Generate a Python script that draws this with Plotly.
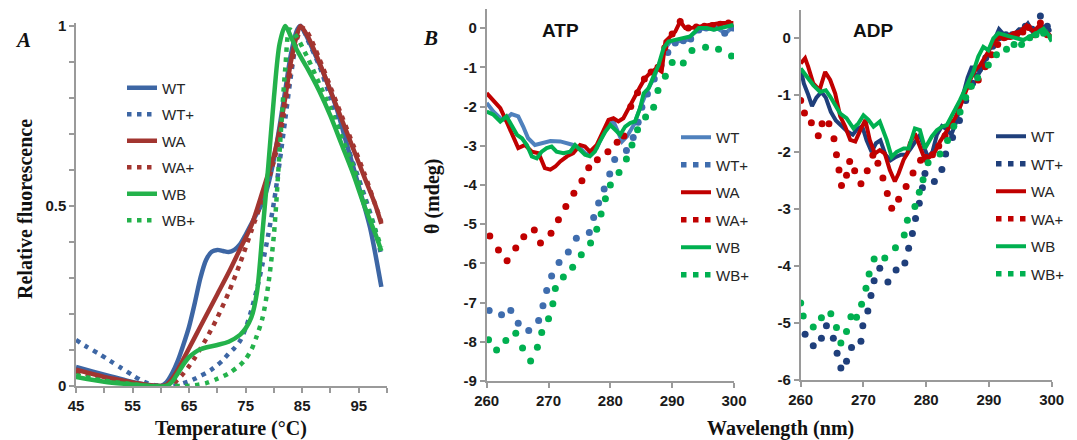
import plotly.graph_objects as go

W, H = 1077, 440
OFF = 8                      # page body margin of the html page
FW, FH = W - OFF, H - OFF    # figure size so that the figure exactly fills the window

# ================= Panel A : thermal shift (Temperature vs relative fluorescence) =================
A_WT_T = [45, 48, 51, 54, 57, 59, 60, 61, 62, 63, 64, 65, 66, 67, 68, 69, 70, 71, 72, 73, 74, 75, 76, 77, 78, 79, 80, 81, 82, 83, 84, 84.6, 85.5, 87, 89, 91, 93, 95, 97, 99]
A_WT_F = [0.053, 0.040, 0.027, 0.015, 0.005, 0.001, 0.0, 0.01, 0.035, 0.07, 0.115, 0.165, 0.23, 0.30, 0.35, 0.373, 0.378, 0.375, 0.372, 0.378, 0.393, 0.42, 0.45, 0.48, 0.51, 0.56, 0.63, 0.72, 0.82, 0.92, 0.985, 1.0, 0.98, 0.93, 0.86, 0.775, 0.665, 0.555, 0.44, 0.275]

A_WTp_T = [45, 47, 49, 51, 53, 55, 57, 59, 61, 62, 63, 64, 65, 66, 67, 68, 69, 70, 71, 72, 73, 74, 75, 76, 77, 78, 79, 80, 81, 82, 83, 84, 84.8, 86, 88, 90, 92, 94, 96, 98, 99]
A_WTp_F = [0.128, 0.108, 0.09, 0.07, 0.05, 0.03, 0.012, 0.002, 0.0, 0.0, 0.003, 0.008, 0.013, 0.02, 0.028, 0.036, 0.046, 0.058, 0.072, 0.09, 0.105, 0.125, 0.16, 0.21, 0.27, 0.34, 0.42, 0.51, 0.62, 0.74, 0.86, 0.96, 1.0, 0.96, 0.89, 0.80, 0.71, 0.62, 0.53, 0.43, 0.36]

A_WA_T = [45, 50, 55, 58, 60, 61, 62, 63, 64, 66, 68, 70, 72, 74, 76, 78, 79, 80, 81, 82, 83, 84, 84.7, 86, 88, 90, 92, 94, 96, 98, 99]
A_WA_F = [0.045, 0.025, 0.01, 0.002, 0.0, 0.003, 0.02, 0.045, 0.075, 0.135, 0.195, 0.255, 0.315, 0.38, 0.445, 0.54, 0.59, 0.64, 0.71, 0.8, 0.9, 0.97, 1.0, 0.97, 0.9, 0.82, 0.74, 0.66, 0.58, 0.5, 0.45]

A_WAp_T = [45, 50, 55, 58, 60, 62, 63, 64, 65, 66, 68, 70, 72, 74, 76, 78, 79, 80, 81, 82, 83, 84, 85, 86, 88, 90, 92, 94, 96, 98, 99]
A_WAp_F = [0.04, 0.022, 0.008, 0.001, 0.0, 0.005, 0.018, 0.035, 0.055, 0.078, 0.13, 0.19, 0.26, 0.34, 0.43, 0.52, 0.57, 0.625, 0.69, 0.78, 0.88, 0.96, 0.995, 0.98, 0.91, 0.83, 0.75, 0.67, 0.59, 0.5, 0.455]

A_WB_T = [45, 50, 55, 58, 61, 62, 63, 64, 65, 66, 67, 68, 70, 72, 74, 75, 76, 77, 78, 79, 80, 81, 82, 83, 84, 86, 88, 90, 92, 94, 96, 98, 99]
A_WB_F = [0.025, 0.012, 0.004, 0.0, 0.0, 0.012, 0.035, 0.06, 0.08, 0.093, 0.102, 0.107, 0.114, 0.123, 0.142, 0.16, 0.19, 0.26, 0.43, 0.61, 0.8, 0.95, 1.0, 0.97, 0.935, 0.88, 0.82, 0.75, 0.67, 0.59, 0.5, 0.42, 0.375]

A_WBp_T = [45, 50, 55, 58, 60, 62, 64, 66, 68, 70, 72, 74, 75, 76, 77, 78, 79, 80, 81, 82, 82.8, 84, 86, 88, 90, 92, 94, 96, 98, 99]
A_WBp_F = [0.03, 0.015, 0.005, 0.0, 0.0, 0.0, 0.0, 0.002, 0.008, 0.02, 0.035, 0.058, 0.075, 0.1, 0.14, 0.19, 0.28, 0.42, 0.65, 0.88, 0.99, 0.97, 0.91, 0.84, 0.77, 0.69, 0.61, 0.52, 0.43, 0.385]

# ================= Panel B : CD spectra with ATP (wavelength nm vs theta mdeg) =================
B_WT_L = [260.0, 261.1, 262.2, 263.0, 264.0, 265.1, 265.9, 266.7, 267.8, 268.9, 270.3, 271.9, 273.2, 274.0, 275.1, 276.2, 277.8, 279.4, 280.5, 281.9, 282.7, 283.8, 284.8, 285.9, 287.0, 288.1, 288.9, 289.7, 290.8, 292.4, 293.5, 294.6, 296.2, 297.2, 298.6, 299.9]
B_WT_V = [-1.91, -2.13, -2.30, -2.34, -2.19, -2.25, -2.51, -2.81, -2.98, -2.93, -2.88, -2.89, -2.93, -2.98, -3.06, -3.23, -3.06, -2.51, -2.38, -2.89, -2.76, -2.47, -2.04, -1.62, -1.28, -0.85, -0.51, -0.34, -0.34, -0.30, -0.13, -0.02, -0.02, 0.0, -0.13, 0.04]

B_WTp_L = [260.4, 262.4, 263.9, 265.1, 266.8, 268.4, 269.1, 269.7, 270.5, 271.7, 273.2, 274.5, 276.6, 277.3, 278.1, 279.0, 279.9, 280.7, 282.6, 283.7, 284.5, 285.1, 286.0, 287.1, 288.2, 289.3, 290.5, 291.8, 293.0, 294.3, 295.5, 296.8, 298.5, 299.8]
B_WTp_V = [-7.20, -7.31, -7.20, -7.53, -7.71, -7.46, -7.08, -6.69, -6.32, -5.98, -5.71, -5.36, -5.21, -4.83, -4.46, -4.10, -3.72, -3.35, -3.12, -2.79, -2.40, -2.02, -1.68, -1.30, -0.95, -0.62, -0.38, -0.32, -0.28, -0.05, 0.0, 0.0, -0.13, 0.0]

B_WA_L = [260.0, 261.1, 262.2, 263.2, 264.3, 265.1, 266.2, 267.3, 268.4, 268.9, 269.4, 270.3, 271.1, 271.9, 273.0, 274.0, 275.1, 275.9, 276.7, 277.8, 278.9, 279.7, 280.5, 281.3, 282.1, 283.2, 284.0, 284.8, 285.6, 286.4, 287.5, 288.3, 288.9, 289.7, 290.5, 291.3, 292.1, 292.9, 294.5, 296.2, 297.8, 299.9]
B_WA_V = [-1.66, -1.87, -2.04, -2.38, -2.81, -3.06, -2.98, -3.15, -3.19, -3.40, -3.57, -3.61, -3.53, -3.40, -3.27, -3.19, -2.98, -3.02, -3.15, -2.98, -2.64, -2.34, -2.30, -2.38, -2.30, -1.96, -1.70, -1.50, -1.28, -1.15, -1.02, -1.11, -0.34, -0.21, -0.09, 0.17, 0.0, 0.0, 0.04, 0.07, 0.13, 0.13]

B_WAp_L = [260.5, 261.9, 263.3, 264.7, 266.0, 267.7, 268.7, 270.4, 271.6, 272.8, 274.1, 275.4, 276.5, 277.9, 279.6, 281.1, 282.2, 283.3, 284.4, 285.5, 286.6, 287.7, 288.8, 290.0, 291.3, 292.6, 293.9, 295.2, 296.5, 297.8, 299.1]
B_WAp_V = [-5.30, -5.66, -5.93, -5.61, -5.32, -5.15, -5.48, -5.23, -4.89, -4.55, -4.21, -3.89, -3.56, -3.36, -3.15, -2.91, -2.75, -2.0, -1.65, -1.30, -1.12, -1.0, -0.5, -0.15, 0.17, 0.0, 0.03, 0.05, 0.07, 0.1, 0.13]

B_WB_L = [260.0, 261.1, 262.2, 263.2, 264.0, 264.9, 265.7, 266.5, 267.3, 268.1, 268.9, 269.7, 270.5, 271.3, 272.4, 273.5, 274.3, 275.1, 275.9, 276.7, 277.5, 278.3, 279.2, 280.0, 280.8, 281.6, 282.4, 283.2, 284.0, 284.8, 285.4, 286.2, 287.0, 287.8, 288.6, 289.4, 290.5, 291.6, 292.9, 294.3, 295.6, 296.7, 297.8, 299.4, 299.9]
B_WB_V = [-2.13, -2.21, -2.38, -2.25, -2.47, -2.72, -2.81, -2.98, -3.27, -3.32, -3.15, -3.06, -3.02, -3.15, -3.19, -3.15, -2.98, -3.10, -3.23, -3.27, -3.15, -2.89, -2.64, -2.47, -2.59, -2.72, -2.51, -2.42, -2.38, -2.04, -1.66, -1.53, -1.23, -0.94, -0.51, -0.34, -0.30, -0.26, -0.21, 0.0, 0.0, -0.04, 0.0, 0.04, 0.08]

B_WBp_L = [260.3, 261.6, 263.1, 264.7, 265.8, 267.1, 268.2, 268.9, 270.0, 270.7, 271.1, 272.4, 273.9, 275.3, 276.8, 277.8, 278.5, 279.2, 280.0, 281.4, 282.6, 283.5, 284.4, 285.7, 287.0, 287.7, 288.9, 290.0, 291.8, 293.2, 295.4, 297.5, 299.6]
B_WBp_V = [-7.95, -8.21, -7.97, -7.78, -8.16, -8.49, -8.14, -7.76, -7.41, -7.03, -6.64, -6.35, -6.10, -5.78, -5.48, -5.13, -4.74, -4.35, -4.00, -3.68, -3.34, -2.98, -2.59, -2.27, -2.02, -1.59, -1.23, -0.88, -0.89, -0.57, -0.49, -0.54, -0.71]

# ================= Panel C : CD spectra with ADP =================
C_WT_L = [260.0, 260.5, 261.2, 261.8, 262.5, 263.3, 264.0, 264.8, 265.6, 266.5, 267.5, 268.3, 269.0, 269.8, 270.5, 271.3, 272.0, 272.7, 273.5, 274.3, 275.0, 276.0, 276.8, 277.5, 278.3, 279.0, 279.6, 280.3, 281.0, 281.7, 282.5, 283.2, 284.0, 284.7, 285.4, 286.0, 286.6, 287.3, 288.0, 288.8, 289.5, 290.3, 291.0, 291.6, 292.4, 293.2, 294.0, 294.8, 295.5, 296.2, 297.0, 297.8, 298.5, 299.3, 300.0]
C_WT_V = [-0.55, -0.80, -1.00, -1.20, -1.05, -0.95, -1.05, -1.30, -1.45, -1.55, -1.65, -1.70, -1.60, -1.55, -1.80, -2.00, -1.85, -1.80, -2.05, -2.15, -2.10, -2.05, -2.05, -1.95, -1.80, -1.70, -1.90, -2.10, -2.00, -1.70, -1.55, -1.60, -1.70, -1.50, -1.20, -0.95, -0.70, -0.50, -0.70, -0.55, -0.35, -0.15, 0.00, 0.15, 0.05, 0.00, 0.05, 0.15, 0.15, 0.25, 0.10, 0.15, 0.20, 0.10, 0.15]

C_WTp_L = [260.7, 262.0, 263.3, 264.1, 265.2, 265.8, 266.4, 267.3, 268.1, 269.6, 269.9, 270.7, 271.2, 271.7, 272.6, 273.9, 275.2, 276.6, 277.2, 277.8, 278.3, 278.9, 279.4, 279.8, 281.3, 282.5, 283.1, 284.2, 285.3, 286.3, 287.4, 288.5, 289.5, 290.6, 291.6, 292.7, 293.7, 294.8, 295.8, 296.9, 298.2, 299.3]
C_WTp_V = [-5.20, -5.40, -5.27, -5.05, -5.27, -5.53, -5.79, -5.67, -5.43, -5.32, -5.05, -4.79, -4.52, -4.26, -4.04, -4.28, -4.07, -3.95, -3.69, -3.43, -3.17, -2.90, -2.63, -2.38, -2.52, -2.31, -2.04, -1.75, -1.45, -1.10, -0.80, -0.55, -0.35, -0.15, 0.0, 0.05, 0.05, 0.10, 0.20, 0.15, 0.38, 0.20]

C_WA_L = [260.0, 260.7, 261.2, 262.0, 263.0, 263.9, 264.7, 265.5, 266.3, 267.1, 267.9, 268.7, 269.5, 270.3, 271.0, 271.8, 272.6, 273.4, 274.2, 275.0, 275.6, 276.4, 277.0, 277.4, 278.2, 279.0, 279.8, 280.6, 281.4, 282.2, 283.0, 283.8, 284.6, 285.4, 286.2, 287.0, 287.8, 288.6, 289.6, 290.7, 291.8, 292.8, 293.9, 295.0, 296.0, 297.1, 298.1, 299.2, 300.0]
C_WA_V = [-0.45, -0.36, -0.51, -0.80, -0.92, -0.60, -0.74, -0.98, -1.38, -1.56, -1.79, -1.82, -1.62, -1.44, -1.79, -2.03, -1.97, -2.03, -2.32, -2.52, -2.38, -2.14, -2.03, -1.85, -1.68, -1.91, -2.14, -2.09, -2.00, -1.82, -1.68, -1.56, -1.41, -1.21, -0.98, -0.74, -0.57, -0.48, -0.30, -0.07, 0.02, -0.01, 0.08, 0.11, 0.22, 0.11, 0.22, 0.08, 0.02]

C_WAp_L = [260.0, 260.6, 261.7, 262.8, 263.4, 264.5, 265.3, 265.7, 266.1, 266.5, 267.3, 267.8, 268.6, 269.6, 270.6, 271.5, 272.3, 273.1, 273.8, 274.5, 275.6, 276.8, 277.9, 279.1, 280.0, 281.0, 282.0, 283.0, 284.0, 285.0, 286.0, 287.0, 288.3, 289.4, 290.4, 291.4, 292.4, 293.4, 294.4, 295.4, 296.3, 297.3, 298.2, 299.3]
C_WAp_V = [-1.10, -1.32, -1.49, -1.72, -1.51, -1.51, -1.77, -2.05, -2.32, -2.59, -2.41, -2.17, -2.33, -2.56, -2.33, -2.06, -2.20, -2.46, -2.73, -2.99, -2.83, -2.61, -2.37, -2.15, -2.10, -2.05, -1.90, -1.72, -1.50, -1.25, -1.05, -0.85, -0.74, -0.51, -0.30, -0.12, 0.0, 0.02, 0.05, 0.10, 0.18, 0.05, 0.26, 0.05]

C_WB_L = [260.0, 261.0, 262.0, 263.1, 264.0, 264.7, 265.5, 266.3, 267.3, 268.4, 269.2, 270.0, 270.8, 271.6, 272.6, 273.7, 274.5, 275.3, 276.4, 277.2, 278.2, 279.0, 279.8, 280.9, 281.7, 282.5, 283.3, 284.3, 285.4, 286.5, 287.5, 288.3, 289.1, 289.9, 290.7, 291.5, 292.3, 293.4, 294.4, 295.5, 296.5, 297.6, 298.7, 299.5, 300.0]
C_WB_V = [-0.54, -0.68, -0.83, -0.95, -0.92, -1.03, -1.18, -1.33, -1.41, -1.59, -1.50, -1.36, -1.44, -1.56, -1.47, -1.79, -2.09, -2.00, -1.94, -1.94, -1.59, -1.62, -1.94, -1.73, -1.62, -1.56, -1.53, -1.33, -1.09, -0.83, -0.60, -0.33, -0.16, -0.22, -0.01, 0.08, 0.05, 0.02, -0.01, -0.04, 0.02, 0.08, 0.16, 0.05, -0.07]

C_WBp_L = [260.0, 260.4, 262.0, 263.3, 264.8, 265.7, 266.4, 267.3, 268.0, 268.9, 269.7, 270.4, 270.9, 271.7, 273.4, 275.1, 276.5, 277.0, 278.2, 278.9, 279.5, 280.3, 282.2, 283.4, 284.4, 285.4, 286.3, 287.2, 288.2, 289.9, 291.2, 292.8, 294.0, 295.2, 296.5, 297.5, 298.7, 300.0]
C_WBp_V = [-4.65, -4.88, -5.07, -4.91, -4.84, -5.08, -5.35, -5.15, -4.89, -4.90, -4.67, -4.39, -4.14, -3.88, -3.86, -3.68, -3.46, -3.20, -2.96, -2.71, -2.49, -2.19, -2.04, -1.80, -1.55, -1.30, -1.05, -0.85, -0.70, -0.48, -0.30, -0.20, -0.12, -0.12, 0.0, 0.05, 0.08, 0.0]

A_TICKS_X = [45, 55, 65, 75, 85, 95]
A_TICKS_Y = [0, 0.5, 1]
B_TICKS_Y = [-9, -8, -7, -6, -5, -4, -3, -2, -1, 0]
C_TICKS_Y = [-6, -5, -4, -3, -2, -1, 0]
WL_TICKS = [260, 270, 280, 290, 300]

# ---------------- styling ----------------
COL_A = {"WT": "#3D66A4", "WA": "#A23530", "WB": "#24B24B"}
COL_B = {"WT": "#4F81BD", "WTp": "#3F6DAE", "WA": "#C00000", "WB": "#00B050"}
COL_C = {"WT": "#1F3F7B", "WA": "#C00000", "WB": "#00B050"}
AXIS_COL = "#9A9A9A"
TICK_FONT = dict(family="Liberation Sans, Arial, sans-serif", size=15, color="#1a1a1a")
LEG_FONT = dict(family="Liberation Sans, Arial, sans-serif", size=15, color="#262626")
DOT_DASH = "4.5px,5.5px"


def bold_labels(vals):
    return ["<b>%s</b>" % ("%g" % v) for v in vals]


fig = go.Figure()

# ----- Panel A traces -----
panelA = [
    ("WT", A_WT_T, A_WT_F, COL_A["WT"], False),
    ("WT+", A_WTp_T, A_WTp_F, COL_A["WT"], True),
    ("WA", A_WA_T, A_WA_F, COL_A["WA"], False),
    ("WA+", A_WAp_T, A_WAp_F, COL_A["WA"], True),
    ("WB", A_WB_T, A_WB_F, COL_A["WB"], False),
    ("WB+", A_WBp_T, A_WBp_F, COL_A["WB"], True),
]
for nm, xs, ys, c, dotted in panelA:
    fig.add_trace(go.Scatter(
        x=xs, y=ys, name=nm, mode="lines",
        line=dict(color=c, width=4.5, dash=DOT_DASH if dotted else "solid", shape="spline", smoothing=0.8),
        xaxis="x", yaxis="y", legend="legend", legendgroup="A" + nm, hoverinfo="skip"))


def add_cd_panel(series, xa, ya, leg, tag):
    for nm, xs, ys, c, dotted in series:
        if dotted:
            fig.add_trace(go.Scatter(
                x=xs, y=ys, name=nm, mode="markers",
                marker=dict(color=c, size=7, line=dict(width=0)),
                xaxis=xa, yaxis=ya, showlegend=False, legend=leg, legendgroup=tag + nm, hoverinfo="skip"))
            fig.add_trace(go.Scatter(
                x=[None], y=[None], name=nm, mode="lines",
                line=dict(color=c, width=5.5, dash="5.5px,6.5px"),
                xaxis=xa, yaxis=ya, legend=leg, legendgroup=tag + nm))
        else:
            fig.add_trace(go.Scatter(
                x=xs, y=ys, name=nm, mode="lines",
                line=dict(color=c, width=4),
                xaxis=xa, yaxis=ya, legend=leg, legendgroup=tag + nm, hoverinfo="skip"))


panelB = [
    ("WT", B_WT_L, B_WT_V, COL_B["WT"], False),
    ("WT+", B_WTp_L, B_WTp_V, COL_B["WTp"], True),
    ("WA", B_WA_L, B_WA_V, COL_B["WA"], False),
    ("WA+", B_WAp_L, B_WAp_V, COL_B["WA"], True),
    ("WB", B_WB_L, B_WB_V, COL_B["WB"], False),
    ("WB+", B_WBp_L, B_WBp_V, COL_B["WB"], True),
]
panelC = [
    ("WT", C_WT_L, C_WT_V, COL_C["WT"], False),
    ("WT+", C_WTp_L, C_WTp_V, COL_C["WT"], True),
    ("WA", C_WA_L, C_WA_V, COL_C["WA"], False),
    ("WA+", C_WAp_L, C_WAp_V, COL_C["WA"], True),
    ("WB", C_WB_L, C_WB_V, COL_C["WB"], False),
    ("WB+", C_WBp_L, C_WBp_V, COL_C["WB"], True),
]
add_cd_panel(panelB, "x2", "y2", "legend2", "B")
add_cd_panel(panelC, "x3", "y3", "legend3", "C")


def px(v):
    """window pixel (x) -> paper fraction"""
    return (v - OFF) / FW


def py(v):
    """window pixel (y, from top) -> paper fraction"""
    return 1 - (v - OFF) / FH


axis_common = dict(showline=True, linecolor=AXIS_COL, linewidth=1.5, showgrid=False, zeroline=False,
                   ticks="outside", ticklen=5, tickwidth=1.5, tickcolor=AXIS_COL, tickfont=TICK_FONT,
                   automargin=False)

legend_common = dict(xanchor="left", yanchor="top", bgcolor="rgba(0,0,0,0)", font=LEG_FONT,
                     itemclick=False, itemdoubleclick=False)

fig.update_layout(
    width=FW, height=FH, margin=dict(l=0, r=0, t=0, b=0, autoexpand=False),
    paper_bgcolor="white", plot_bgcolor="white",
    xaxis=dict(domain=[px(76), px(387)], range=[45, 100], anchor="y",
               tickmode="array", tickvals=A_TICKS_X, ticktext=bold_labels(A_TICKS_X),
               minor=dict(dtick=5, tick0=45, ticks="outside", ticklen=5, tickwidth=1.5, tickcolor=AXIS_COL),
               **axis_common),
    yaxis=dict(domain=[py(386), py(23)], range=[0, 1.008], anchor="x",
               tickmode="array", tickvals=A_TICKS_Y, ticktext=bold_labels(A_TICKS_Y),
               minor=dict(dtick=0.1, tick0=0, ticks="outside", ticklen=5, tickwidth=1.5, tickcolor=AXIS_COL),
               **axis_common),
    xaxis2=dict(domain=[px(486.7), px(734)], range=[260, 300], anchor="y2",
                tickmode="array", tickvals=WL_TICKS, ticktext=bold_labels(WL_TICKS), **axis_common),
    yaxis2=dict(domain=[py(381), py(9.3)], range=[-9, 0.48], anchor="x2",
                tickmode="array", tickvals=B_TICKS_Y, ticktext=bold_labels(B_TICKS_Y), **axis_common),
    xaxis3=dict(domain=[px(800.7), px(1051.7)], range=[260, 300], anchor="y3",
                tickmode="array", tickvals=WL_TICKS, ticktext=bold_labels(WL_TICKS), **axis_common),
    yaxis3=dict(domain=[py(380), py(10)], range=[-6, 0.486], anchor="x3",
                tickmode="array", tickvals=C_TICKS_Y, ticktext=bold_labels(C_TICKS_Y), **axis_common),
    legend=dict(x=px(122), y=py(71.5), tracegroupgap=4, **legend_common),
    legend2=dict(x=px(676), y=py(121), tracegroupgap=5, **legend_common),
    legend3=dict(x=px(991), y=py(120), tracegroupgap=5, **legend_common),
    showlegend=True,
)

SERIF = "Liberation Serif, Times New Roman, serif"
SANS = "Liberation Sans, Arial, sans-serif"
ann = [
    dict(text="<b><i>A</i></b>", x=px(23), y=py(40), size=21, family=SERIF, angle=0),
    dict(text="<b><i>B</i></b>", x=px(430), y=py(38), size=21, family=SERIF, angle=0),
    dict(text="<b>Relative fluorescence</b>", x=px(25), y=py(209), size=20, family=SERIF, angle=-90),
    dict(text="<b>Temperature (°C)</b>", x=px(231), y=py(428), size=20, family=SERIF, angle=0),
    dict(text="<b>θ (mdeg)</b>", x=px(432), y=py(197), size=20, family=SERIF, angle=-90),
    dict(text="<b>Wavelength (nm)</b>", x=px(780), y=py(428), size=20, family=SERIF, angle=0),
    dict(text="<b>ATP</b>", x=px(560), y=py(30), size=19, family=SANS, angle=0),
    dict(text="<b>ADP</b>", x=px(873), y=py(30), size=19, family=SANS, angle=0),
]
for a in ann:
    fig.add_annotation(text=a["text"], x=a["x"], y=a["y"], xref="paper", yref="paper",
                       xanchor="center", yanchor="middle", showarrow=False, textangle=a["angle"],
                       font=dict(family=a["family"], size=a["size"], color="#111111"))

fig.write_html("out.html")
